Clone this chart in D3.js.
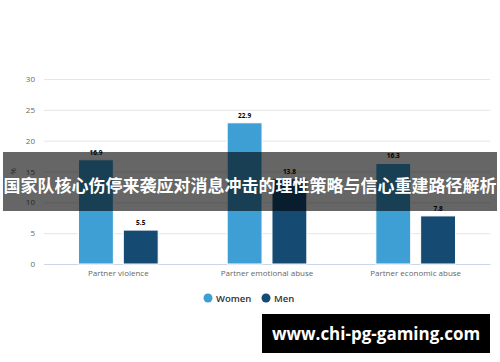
<!DOCTYPE html>
<html>
<head>
<meta charset="utf-8">
<script src="https://cdn.jsdelivr.net/npm/d3@7"></script>
<style>
  body { margin: 0; background: #fff; }
  svg { display: block; font-family: "Open Sans", "Noto Sans", sans-serif; }
</style>
</head>
<body>
<script>
const categories = ["Partner violence", "Partner emotional abuse", "Partner economic abuse"];
const seriesNames = ["Women", "Men"];
const women = [16.9, 22.9, 16.3];
const men = [5.5, 13.8, 7.8];
const yTicks = [0, 5, 10, 15, 20, 25, 30];
const colors = ["#3d9fd3", "#154a72"];

const width = 500, height = 362;
const margin = {top: 79, right: 10, bottom: 98, left: 44};
const innerWidth = width - margin.left - margin.right,
  innerHeight = height - margin.top - margin.bottom;

const svg = d3.select("body").append("svg")
  .attr("width", width)
  .attr("height", height);

const g = svg.append("g")
  .attr("transform", "translate(" + margin.left + "," + margin.top + ")");

const x = d3.scaleBand().domain(categories).range([0, innerWidth]);
const xs = d3.scaleBand().domain(seriesNames).range([0, x.bandwidth()])
  .paddingInner(0.222).paddingOuter(0.77);
const y = d3.scaleLinear().domain([0, 30]).range([innerHeight, 0]);

// grid
g.append("g")
  .attr("font-family", null)
  .call(d3.axisLeft(y).tickValues(yTicks).tickSize(-innerWidth).tickFormat(d => d))
  .call(a => a.attr("font-family", null))
  .call(a => a.select(".domain").remove())
  .call(a => a.selectAll(".tick line").attr("stroke", "#e6e6e6"))
  .call(a => a.selectAll(".tick text").attr("x", -9).attr("fill", "#666").style("font-size", "8px"));

// x axis
g.append("g")
  .attr("transform", "translate(0," + innerHeight + ")")
  .call(d3.axisBottom(x).tickSize(0).tickPadding(6))
  .call(a => a.attr("font-family", null))
  .call(a => a.select(".domain").attr("stroke", "#ccd6eb"))
  .call(a => a.selectAll(".tick text").attr("fill", "#666").style("font-size", "8px"));

svg.append("text")
  .attr("transform", "translate(16," + (margin.top + innerHeight / 2) + ") rotate(-90)")
  .attr("text-anchor", "middle")
  .attr("fill", "#666")
  .style("font-size", "8px")
  .text("%");

const rows = categories.map((c, i) => ({cat: c, values: [women[i], men[i]]}));

const groups = g.selectAll(".grp").data(rows).enter().append("g")
  .attr("transform", d => "translate(" + x(d.cat) + ",0)");

groups.selectAll("rect")
  .data(d => d.values.map((v, j) => ({s: seriesNames[j], v: v, j: j})))
  .enter().append("rect")
  .attr("x", d => xs(d.s))
  .attr("width", xs.bandwidth())
  .attr("y", d => y(d.v))
  .attr("height", d => innerHeight - y(d.v))
  .attr("fill", d => colors[d.j])
  .attr("stroke", "#fff")
  .attr("stroke-width", 1);

groups.selectAll(".lbl")
  .data(d => d.values.map((v, j) => ({s: seriesNames[j], v: v})))
  .enter().append("text")
  .attr("x", d => xs(d.s) + xs.bandwidth() / 2)
  .attr("y", d => y(d.v) - 5)
  .attr("text-anchor", "middle")
  .attr("fill", "#000")
  .attr("stroke", "#fff")
  .attr("stroke-width", 2)
  .attr("paint-order", "stroke")
  .style("font-size", "6.5px")
  .style("font-weight", "bold")
  .text(d => d.v);

// legend
const legend = svg.append("g").attr("transform", "translate(0,298)");
const legendX = [208, 266];
seriesNames.forEach((s, i) => {
  legend.append("circle").attr("cx", legendX[i]).attr("cy", 0).attr("r", 4.5).attr("fill", colors[i]);
  legend.append("text").attr("x", legendX[i] + 8).attr("y", 3.5)
    .attr("fill", "#333").style("font-size", "9.5px").style("font-weight", "600").text(s);
});

// overlay banner
svg.append("rect").attr("x", 3).attr("y", 152).attr("width", 494).attr("height", 59)
  .attr("fill", "#000").attr("fill-opacity", 0.6);
svg.append("text").attr("x", 250).attr("y", 191.5).attr("text-anchor", "middle")
  .attr("fill", "#fff")
  .style("font-family", "'Noto Sans CJK SC', sans-serif")
  .style("font-size", "17px").style("font-weight", "bold")
  .text("国家队核心伤停来袭应对消息冲击的理性策略与信心重建路径解析");

// watermark
svg.append("rect").attr("x", 262).attr("y", 314).attr("width", 228).attr("height", 39).attr("fill", "#000");
svg.append("text").attr("x", 376).attr("y", 339.5).attr("text-anchor", "middle")
  .attr("fill", "#fff")
  .style("font-family", "'Open Sans', sans-serif")
  .style("font-size", "17px").style("font-weight", "bold")
  .text("www.chi-pg-gaming.com");
</script>
</body>
</html>
